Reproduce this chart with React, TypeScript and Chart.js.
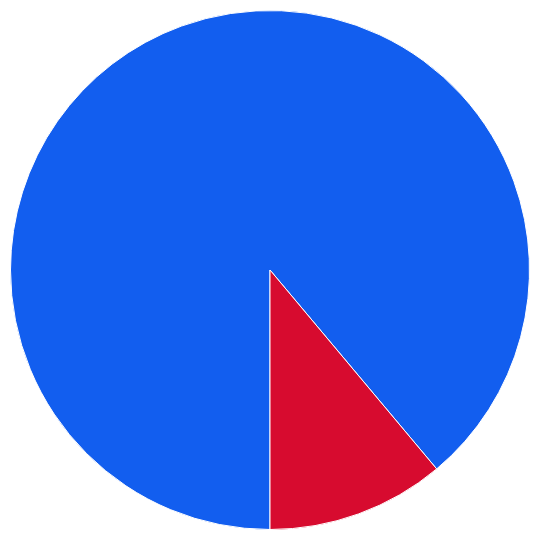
import React, { useEffect, useRef } from "react";
import { Chart, registerables } from "chart.js";

Chart.register(...registerables);

const labels = ["Blue", "Red"];
const values = [88.9, 11.1];
const colors = ["#125EEF", "#D70B2F"];

export default function App() {
  const canvasRef = useRef<HTMLCanvasElement>(null);

  useEffect(() => {
    document.body.style.margin = "0";
    if (!canvasRef.current) return;

    const chart = new Chart(canvasRef.current, {
      type: "pie",
      data: {
        labels,
        datasets: [
          {
            data: values,
            backgroundColor: colors,
            borderColor: "#ffffff",
            borderWidth: 1,
          },
        ],
      },
      options: {
        responsive: true,
        maintainAspectRatio: false,
        animation: false,
        rotation: 180,
        layout: { padding: 10 },
        plugins: {
          legend: { display: false },
          tooltip: { enabled: false },
        },
      },
    });

    return () => {
      chart.destroy();
    };
  }, []);

  return (
    <div style={{ width: 540, height: 540, position: "relative" }}>
      <canvas ref={canvasRef} />
    </div>
  );
}
